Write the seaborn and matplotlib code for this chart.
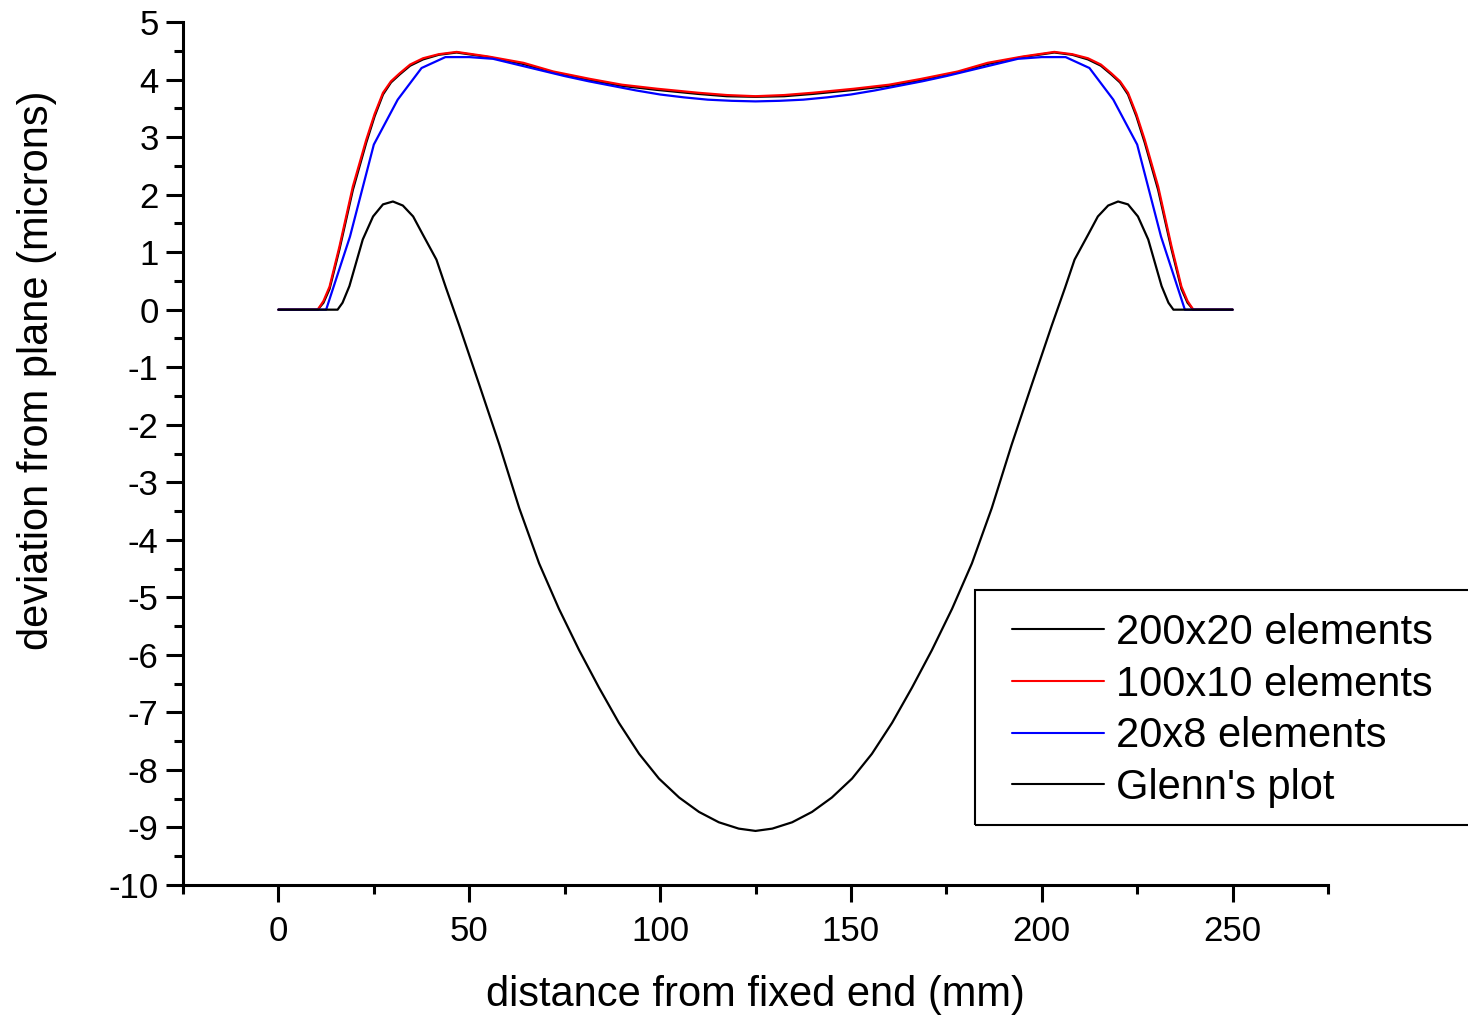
import matplotlib
matplotlib.use("Agg")
import matplotlib.pyplot as plt
from matplotlib.patches import Rectangle
from matplotlib.ticker import MultipleLocator
import seaborn as sns

# --- data (x in mm, y in microns) ---
x_fine = [0, 10.3, 11.8, 13.4, 16.0, 19.5, 23.0, 25.2, 27.4, 29.5, 31.8, 34.5, 37.9, 42.0,
          46.7, 55.0, 64.2, 72.0, 81.7, 90.0, 99.2, 110.0, 117.5, 125.0,
          132.5, 140.0, 150.8, 160.0, 168.3, 178.0, 185.8, 195.0, 203.3, 208.0, 212.1,
          215.5, 218.2, 220.5, 222.6, 224.8, 227.0, 230.5, 234.0, 236.6, 238.2, 239.7, 250]

y_200x20 = [0, 0, 0.12, 0.36, 1.05, 2.08, 2.90, 3.36, 3.74, 3.95, 4.09, 4.24, 4.35, 4.43,
            4.47, 4.39, 4.27, 4.12, 3.99, 3.89, 3.82, 3.75, 3.71, 3.70,
            3.71, 3.75, 3.82, 3.89, 3.99, 4.12, 4.27, 4.39, 4.47, 4.43, 4.35,
            4.24, 4.09, 3.95, 3.74, 3.36, 2.90, 2.08, 1.05, 0.36, 0.12, 0, 0]

y_100x10 = [0, 0, 0.15, 0.40, 1.10, 2.14, 2.95, 3.40, 3.77, 3.97, 4.11, 4.26, 4.37, 4.44,
            4.48, 4.40, 4.29, 4.14, 4.01, 3.91, 3.84, 3.77, 3.73, 3.71,
            3.73, 3.77, 3.84, 3.91, 4.01, 4.14, 4.29, 4.40, 4.48, 4.44, 4.37,
            4.26, 4.11, 3.97, 3.77, 3.40, 2.95, 2.14, 1.10, 0.40, 0.15, 0, 0]

x_20x8 = [0, 12.5, 18.75, 25, 31.25, 37.5, 43.75, 50, 56.25, 62.5, 68.75, 75, 81.25, 87.5,
          93.75, 100, 106.25, 112.5, 118.75, 125, 131.25, 137.5, 143.75, 150, 156.25,
          162.5, 168.75, 175, 181.25, 187.5, 193.75, 200, 206.25, 212.5, 218.75, 225,
          231.25, 237.5, 250]
y_20x8 = [0, 0, 1.27, 2.87, 3.65, 4.20, 4.39, 4.39, 4.36, 4.26, 4.16, 4.06, 3.97, 3.89,
          3.81, 3.74, 3.69, 3.65, 3.63, 3.62, 3.63, 3.65, 3.69, 3.74, 3.81,
          3.89, 3.97, 4.06, 4.16, 4.26, 4.36, 4.39, 4.39, 4.20, 3.65, 2.87,
          1.27, 0, 0]

x_glenn = [0, 15.5, 16.8, 18.6, 22.1, 24.8, 27.4, 30.0, 32.6, 35.3, 37.8, 41.4, 43.9, 47.4,
           52.6, 57.9, 63.1, 68.3, 73.5, 78.8, 84.0, 89.2, 94.5, 99.7, 105.0, 110.2, 115.4,
           120.6, 125.0, 129.4, 134.6, 139.8, 145.0, 150.3, 155.5, 160.8, 166.0, 171.2,
           176.5, 181.7, 186.9, 192.1, 197.4, 202.6, 206.1, 208.6, 212.2, 214.7, 217.4,
           220.0, 222.6, 225.2, 227.9, 231.4, 233.2, 234.5, 250]
y_glenn = [0, 0, 0.12, 0.41, 1.22, 1.62, 1.83, 1.88, 1.81, 1.62, 1.31, 0.87, 0.38, -0.28,
           -1.30, -2.35, -3.45, -4.41, -5.20, -5.92, -6.57, -7.18, -7.72, -8.15, -8.48, -8.73,
           -8.91, -9.02, -9.06, -9.02, -8.91, -8.73, -8.48, -8.15, -7.72, -7.18, -6.57, -5.92,
           -5.20, -4.41, -3.45, -2.35, -1.30, -0.28, 0.38, 0.87, 1.31, 1.62, 1.81,
           1.88, 1.83, 1.62, 1.22, 0.41, 0.12, 0, 0]

sns.set_style("ticks")
plt.rcParams['font.family'] = ['Liberation Sans', 'DejaVu Sans']
plt.rcParams['axes.unicode_minus'] = False
plt.rcParams['text.color'] = 'black'
plt.rcParams['axes.labelcolor'] = 'black'

W, H = 1468, 1017
fig = plt.figure(figsize=(W / 100, H / 100), dpi=100)
ax = fig.add_axes([183 / W, 1 - 885 / H, (1328 - 183) / W, (885 - 22) / H])

lw = 1.6
sns.lineplot(x=x_fine, y=y_200x20, color='black', lw=lw, label='200x20 elements', ax=ax)
sns.lineplot(x=x_fine, y=y_100x10, color='red', lw=lw, label='100x10 elements', ax=ax)
sns.lineplot(x=x_20x8, y=y_20x8, color='blue', lw=lw, label='20x8 elements', ax=ax)
sns.lineplot(x=x_glenn, y=y_glenn, color='black', lw=lw, label="Glenn's plot", ax=ax)

ax.set_xlim(-25, 275)
ax.set_ylim(-10, 5)
ax.xaxis.set_major_locator(MultipleLocator(50))
ax.xaxis.set_minor_locator(MultipleLocator(25))
ax.yaxis.set_major_locator(MultipleLocator(1))
ax.yaxis.set_minor_locator(MultipleLocator(0.5))

for s in ['top', 'right']:
    ax.spines[s].set_visible(False)
for s in ['left', 'bottom']:
    ax.spines[s].set_linewidth(2.2)
    ax.spines[s].set_color('black')

ax.tick_params(which='major', direction='out', length=12.5, width=2.2, labelsize=25,
               colors='black', labelcolor='black')
ax.tick_params(which='minor', direction='out', length=6.5, width=2.2, colors='black')
ax.tick_params(axis='y', which='major', pad=5)
ax.tick_params(axis='x', which='major', pad=9)

ax.set_xlabel('distance from fixed end (mm)', fontsize=30)
ax.set_ylabel('deviation from plane (microns)', fontsize=30)
ax.xaxis.set_label_coords(0.5, -0.104)
ax.yaxis.set_label_coords(-0.110, 0.597)

# legend box (runs off the right edge, as in the original)
fig.patches.append(Rectangle((975 / W, 1 - 825 / H), (1480 - 975) / W, (825 - 590) / H,
                             transform=fig.transFigure, fill=False, edgecolor='black',
                             lw=1.5, zorder=5))
leg = ax.legend(loc='upper left', bbox_to_anchor=(1012 / W, 1 - 613 / H),
                bbox_transform=fig.transFigure, frameon=False, fontsize=30,
                borderpad=0, borderaxespad=0, handlelength=2.2, handletextpad=0.3,
                labelspacing=0.28)
for line in leg.get_lines():
    line.set_linewidth(1.5)

fig.savefig('out.png', dpi=100)
